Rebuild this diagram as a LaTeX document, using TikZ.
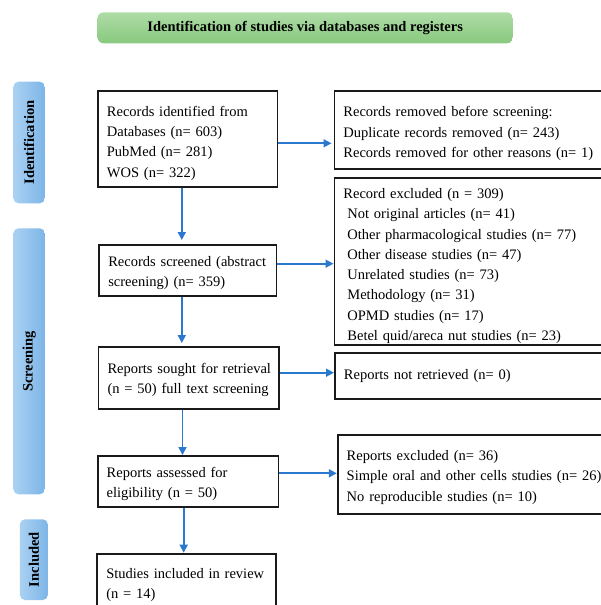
\documentclass[tikz,border=0pt]{standalone}
\usepackage{fontspec}
\setmainfont{Liberation Serif}
\usepackage{graphicx}
\usetikzlibrary{arrows.meta}
\definecolor{arrblue}{HTML}{2B78CF}
\definecolor{lblL}{HTML}{AAD1F2}
\definecolor{lblR}{HTML}{7DB5E7}
\definecolor{grT}{HTML}{AEDCA6}
\definecolor{grB}{HTML}{89C97F}
\definecolor{boxline}{HTML}{1A1A1A}
\begin{document}
\begin{tikzpicture}[x=1pt,y=-1pt,
  every node/.style={font=\fontsize{14.5}{20.3}\selectfont, text=black},
  flowbox/.style={draw=boxline, line width=1.8pt, anchor=north west, align=left, inner xsep=9pt, inner ysep=0pt},
  tshift/.style={execute at begin node={\hyphenpenalty=10000\rule{0pt}{#1}}},
  sidelbl/.style={left color=lblL, right color=lblR, rounded corners=5pt, draw=none, inner sep=0pt, font=\fontsize{14.5}{17}\selectfont\bfseries},
  titlebox/.style={top color=grT, bottom color=grB, rounded corners=6pt, draw=none, inner sep=0pt, font=\fontsize{14.5}{17}\selectfont\bfseries},
  arr/.style={draw=arrblue, line width=1.7pt, -{Triangle[length=8pt,width=8pt]}}
]
\clip (0,0) rectangle (601,605);

% title
\node[titlebox, minimum width=415.2pt, minimum height=31pt] (title) at (305.2,27.8) {Identification of studies via databases and registers};

% side labels
\node[sidelbl, minimum width=31.4pt, minimum height=121.6pt] (lid) at (29.1,142.5) {\rotatebox{90}{Identification}};
\node[sidelbl, minimum width=31.4pt, minimum height=266pt] (lsc) at (29.1,361.3) {\rotatebox{90}{Screening}};
\node[sidelbl, minimum width=27.9pt, minimum height=80.7pt] (lin) at (33.85,559.65) {\rotatebox{90}{Included}};

% left column
\node[flowbox, tshift=18.7pt, text width=161.5pt, minimum height=95.7pt] (b1) at (97,90)
  {Records identified from\\Databases (n= 603)\\PubMed (n= 281)\\WOS (n= 322)};
\node[flowbox, tshift=15pt, text width=159.1pt, minimum height=51pt] (b2) at (98.4,244)
  {\mbox{Records screened (abstract}\\screening) (n= 359)};
\node[flowbox, tshift=15pt, text width=162.6pt, minimum height=61.7pt] (b3) at (97.6,346)
  {\mbox{Reports sought for retrieval}\\\mbox{(n = 50) full text screening}};
\node[flowbox, tshift=16.1pt, text width=162.7pt, minimum height=50.7pt] (b4) at (96.8,455)
  {Reports assessed for\\eligibility (n = 50)};
\node[flowbox, tshift=11.7pt, text width=160.4pt, minimum height=61.2pt] (b5) at (96.4,552.7)
  {Studies included in review\\(n = 14)};

% right column
\node[flowbox, tshift=17.1pt, text width=300pt, minimum height=78.3pt] (rem) at (333.5,90)
  {Records removed before screening:\\Duplicate records removed (n= 243)\\Records removed for other reasons (n= 1)};
\node[flowbox, tshift=19.5pt, text width=300pt, minimum height=167.3pt] (exc) at (333.5,176.7)
  {Record excluded (n = 309)\\
   \hspace*{4pt}Not original articles (n= 41)\\
   \hspace*{4pt}Other pharmacological studies (n= 77)\\
   \hspace*{4pt}Other disease studies (n= 47)\\
   \hspace*{4pt}Unrelated studies (n= 73)\\
   \hspace*{4pt}Methodology (n= 31)\\
   \hspace*{4pt}OPMD studies (n= 17)\\
   \hspace*{4pt}Betel quid/areca nut studies (n= 23)};
\node[flowbox, tshift=11.5pt, text width=300pt, minimum height=46pt] (nr) at (334,351.7)
  {Reports not retrieved (n= 0)};
\node[flowbox, tshift=15.1pt, text width=300pt, minimum height=79pt] (exc2) at (336.8,434.3)
  {Reports excluded (n= 36)\\Simple oral and other cells studies (n= 26)\\No reproducible studies (n= 10)};

% helper coordinates
\coordinate (ya) at (0,143.3);
\coordinate (yb) at (0,263.7);
\coordinate (yc) at (0,372.7);
\coordinate (yd) at (0,473.3);
\coordinate (xa) at (181.8,0);
\coordinate (xb) at (182.5,0);
\coordinate (xc) at (183.7,0);

% connectors
\draw[arr, shorten >=2pt] (b1.east |- ya) -- (rem.west |- ya);
\draw[arr] (b2.east |- yb) -- (exc.west |- yb);
\draw[arr] (b3.east |- yc) -- (nr.west |- yc);
\draw[arr] (b4.east |- yd) -- (exc2.west |- yd);
\draw[arr, shorten >=4pt] (b1.south -| xa) -- (b2.north -| xa);
\draw[arr, shorten >=3pt] (b2.south -| xa) -- (b3.north -| xa);
\draw[arr] (b3.south -| xb) -- (b4.north -| xb);
\draw[arr] (b4.south -| xc) -- (b5.north -| xc);
\end{tikzpicture}
\end{document}
